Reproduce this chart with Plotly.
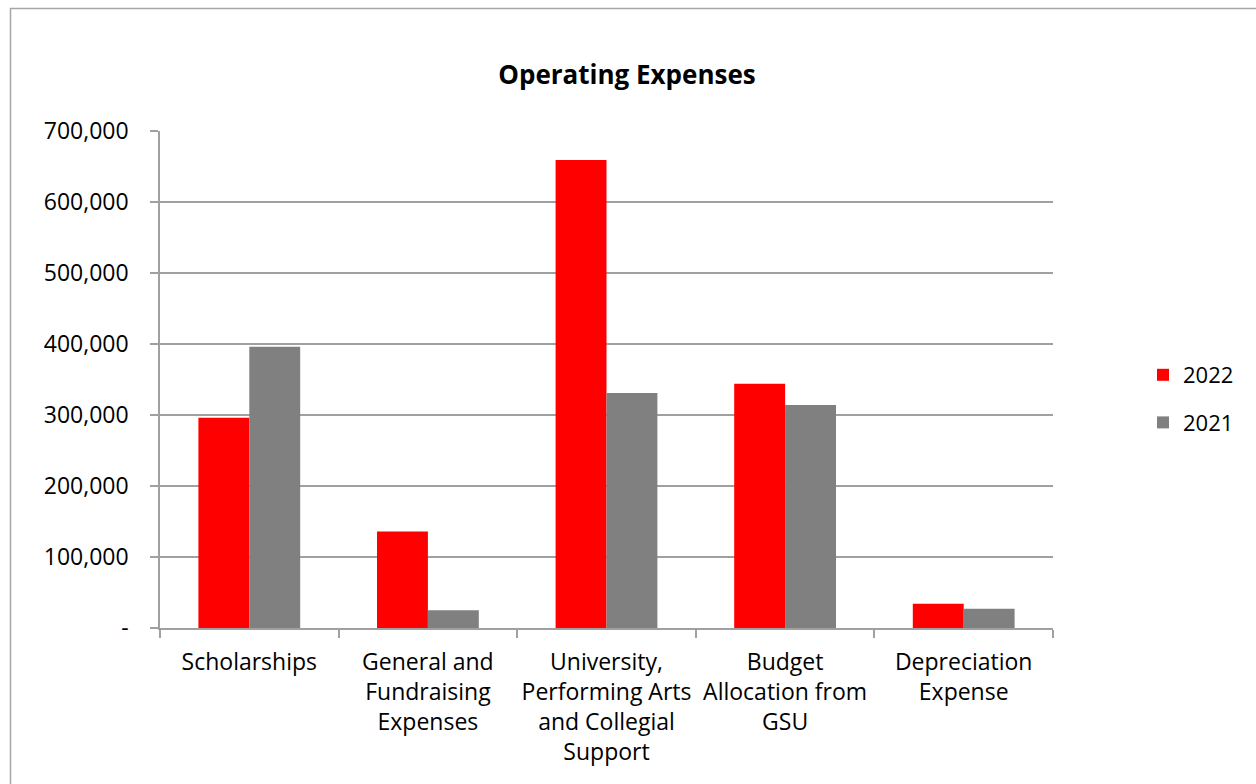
import plotly.graph_objects as go

categories = ["Scholarships", "General and<br>Fundraising<br>Expenses",
              "University,<br>Performing Arts<br>and Collegial<br>Support",
              "Budget<br>Allocation from<br>GSU", "Depreciation<br>Expense"]
values_2022 = [296000, 136000, 659000, 344000, 34000]
values_2021 = [396000, 25000, 331000, 314000, 27000]
y_tickvals = [0, 100000, 200000, 300000, 400000, 500000, 600000, 700000]
y_ticktext = ["-", "100,000", "200,000", "300,000", "400,000", "500,000", "600,000", "700,000"]

FONT = "Open Sans, Noto Sans, Liberation Sans, sans-serif"

fig = go.Figure()
fig.add_trace(go.Bar(name="2022", x=categories, y=values_2022, marker_color="#FF0000",
                     marker_line_width=0, legendgroup="a"))
fig.add_trace(go.Bar(name="2021", x=categories, y=values_2021, marker_color="#808080",
                     marker_line_width=0, legendgroup="b"))

W, H = 1256, 784
L, R, T, B = 160, 1053, 131, 628
pw, ph = R - L, B - T

fig.update_layout(
    width=W, height=H,
    margin=dict(l=L, r=W - R, t=T, b=H - B, pad=0),
    paper_bgcolor="white", plot_bgcolor="white",
    barmode="group", bargap=0.43, bargroupgap=0,
    font=dict(family=FONT, size=23, color="black"),
    title=dict(text="<b>Operating Expenses</b>", x=627 / W, xanchor="center",
               y=1 - 75 / H, yanchor="middle", font=dict(size=26, color="black")),
    legend=dict(x=(1143 - L) / pw, xanchor="left", y=(B - 399) / ph, yanchor="middle",
                font=dict(size=22), itemwidth=30, traceorder="grouped", tracegroupgap=16,
                bgcolor="rgba(0,0,0,0)"),
    showlegend=True,
)
fig.update_xaxes(
    tickson="boundaries", ticks="outside", ticklen=8, tickcolor="#A0A0A0", tickwidth=1.5,
    showline=True, linecolor="#A0A0A0", linewidth=1.5, showgrid=False,
    tickfont=dict(size=23), tickangle=0, ticklabelstandoff=13,
)
fig.update_yaxes(
    range=[0, 700000], tickvals=y_tickvals, ticktext=y_ticktext,
    ticks="outside", ticklen=8, tickcolor="#A0A0A0", tickwidth=1.5,
    showline=True, linecolor="#A0A0A0", linewidth=1.5,
    showgrid=True, gridcolor="#A0A0A0", gridwidth=1.5, zeroline=False,
    tickfont=dict(size=23), ticklabelstandoff=17,
)
# outer chart border
fig.add_shape(type="rect", xref="paper", yref="paper",
              x0=(10.5 - L) / pw, x1=(W + 20 - L) / pw,
              y0=(B - (H + 20)) / ph, y1=(B - 8.5) / ph,
              line=dict(color="#A6A6A6", width=1.5), fillcolor="rgba(0,0,0,0)", layer="below")

fig.write_html("out.html", config={"displayModeBar": False},
               post_script="document.body.style.margin='0';document.body.style.overflow='hidden';")
